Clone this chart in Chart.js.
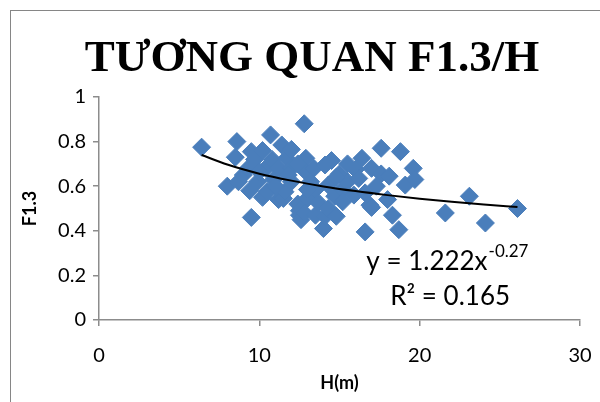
<!DOCTYPE html>
<html>
<head>
<meta charset="utf-8">
<script src="https://cdn.jsdelivr.net/npm/chart.js@4"></script>
<style>
  html, body { margin: 0; padding: 0; background: #fff; overflow: hidden; }
  #wrap { position: relative; width: 600px; height: 402px; overflow: hidden; }
  #frame { position: absolute; left: 10px; top: 10px; width: 700px; height: 500px; border: 1px solid #868686; box-sizing: border-box; }
  canvas { position: absolute; left: 0; top: 0; }
</style>
</head>
<body>
<div id="wrap">
  <div id="frame"></div>
  <canvas id="c" width="600" height="402"></canvas>
</div>
<script>
const chartTitle = "TƯƠNG QUAN F1.3/H";
const xAxisTitle = "H(m)";
const yAxisTitle = "F1.3";
const equationMain = "y = 1.222x";
const equationExp = "-0.27";
const rSquaredText = "R² = 0.165";

const hValues = [6.4, 8.0, 8.6, 8.5, 8.7, 9.0, 9.3, 9.4, 9.5, 9.5, 9.7, 9.9, 10.2, 10.2, 10.4, 10.5, 10.7, 10.8, 10.9, 11.2,
  11.2, 11.4, 11.5, 11.6, 11.7, 12.0, 12.0, 12.0, 12.4, 12.5, 12.5, 12.6, 12.8, 12.9, 12.9, 13.0, 12.8, 13.4, 13.5, 13.5,
  13.7, 14.0, 14.1, 14.1, 14.3, 14.3, 14.5, 14.7, 14.8, 15.0, 15.2, 15.5, 15.9, 16.0, 16.4, 16.6, 16.6, 16.9, 17.0, 17.0,
  17.6, 17.6, 18.0, 18.1, 18.3, 18.7, 18.8, 19.1, 19.6, 19.7, 21.6, 23.1, 24.1, 26.1,
  11.0, 11.8, 10.0, 12.4, 13.2, 13.0, 15.5, 16.2, 17.3, 14.8, 15.2];
const f13Values = [0.775, 0.60, 0.80, 0.73, 0.62, 0.65, 0.68, 0.58, 0.46, 0.755, 0.72, 0.62, 0.76, 0.55, 0.68, 0.575, 0.83, 0.72, 0.63, 0.68,
  0.54, 0.785, 0.545, 0.575, 0.725, 0.765, 0.68, 0.62, 0.52, 0.47, 0.49, 0.45, 0.88, 0.725, 0.665, 0.545, 0.48, 0.68, 0.47, 0.585,
  0.525, 0.41, 0.695, 0.465, 0.605, 0.50, 0.715, 0.555, 0.465, 0.655, 0.585, 0.70, 0.56, 0.675, 0.725, 0.395, 0.57, 0.515, 0.68, 0.505,
  0.655, 0.77, 0.54, 0.645, 0.47, 0.405, 0.755, 0.605, 0.68, 0.63, 0.48, 0.555, 0.435, 0.50,
  0.60, 0.65, 0.665, 0.70, 0.62, 0.585, 0.62, 0.635, 0.60, 0.64, 0.53];

// Power trendline (as displayed: y = 1.222x^-0.27), values at these H
const trendH = [6.4, 8, 10, 12, 14, 16, 18, 20, 22, 24, 26.1];
const trendF = [0.740, 0.697, 0.656, 0.625, 0.599, 0.578, 0.560, 0.544, 0.530, 0.518, 0.507];

const xTicks = [0, 10, 20, 30];
const yTicks = [0, 0.2, 0.4, 0.6, 0.8, 1];
const xTickLabels = ["0", "10", "20", "30"];
const yTickLabels = ["0", "0.2", "0.4", "0.6", "0.8", "1"];

const scatterData = hValues.map((h, i) => ({ x: h, y: f13Values[i] }));
const trendData = trendH.map((h, i) => ({ x: h, y: trendF[i] }));

const axisGray = '#8c8c8c';
const markerBlue = '#4A7EBB';

const textPlugin = {
  id: 'textPlugin',
  afterDraw(chart) {
    const ctx = chart.ctx;
    const xs = chart.scales.x, ys = chart.scales.y;
    ctx.save();
    // Title
    ctx.fillStyle = '#000';
    ctx.font = 'bold 45px "Liberation Serif", "Times New Roman", serif';
    ctx.textAlign = 'center';
    ctx.textBaseline = 'alphabetic';
    ctx.fillText(chartTitle, 312, 71);

    // Equation
    const eqFont = '26px Lato, Carlito, sans-serif';
    const supFont = '17px Lato, Carlito, sans-serif';
    ctx.font = eqFont;
    const wMain = ctx.measureText(equationMain).width;
    ctx.font = supFont;
    const wExp = ctx.measureText(equationExp).width;
    const cx = xs.getPixelForValue(21.7);
    const cy = ys.getPixelForValue(0.222);
    const startX = cx - (wMain + wExp) / 2;
    ctx.textAlign = 'left';
    ctx.font = eqFont;
    ctx.fillText(equationMain, startX, cy);
    ctx.font = supFont;
    ctx.fillText(equationExp, startX + wMain + 1, cy - 13);

    ctx.font = eqFont;
    ctx.textAlign = 'center';
    ctx.fillText(rSquaredText, xs.getPixelForValue(21.9), ys.getPixelForValue(0.066));
    ctx.restore();
  }
};

new Chart(document.getElementById('c'), {
  type: 'scatter',
  data: {
    datasets: [
      {
        label: 'Trend',
        data: trendData,
        showLine: true,
        borderColor: '#000',
        borderWidth: 2,
        pointRadius: 0,
        tension: 0.4,
        cubicInterpolationMode: 'monotone',
        fill: false,
        order: 0
      },
      {
        label: 'F1.3',
        data: scatterData,
        pointStyle: 'rectRot',
        pointRadius: 9,
        pointBackgroundColor: markerBlue,
        pointBorderColor: markerBlue,
        pointBorderWidth: 1,
        order: 1
      }
    ]
  },
  options: {
    responsive: false,
    animation: false,
    events: [],
    layout: { padding: { left: 10, top: 97, right: 20, bottom: 0 } },
    plugins: {
      legend: { display: false },
      tooltip: { enabled: false },
      title: { display: false }
    },
    scales: {
      x: {
        type: 'linear',
        min: 0, max: 30,
        afterBuildTicks: s => { s.ticks = xTicks.map(v => ({ value: v })); },
        afterFit: s => { s.height = 82; s.paddingRight = 0; s.paddingLeft = 0; },
        grid: { drawOnChartArea: false, drawTicks: true, tickLength: 6, color: axisGray, lineWidth: 1.5 },
        border: { color: axisGray, width: 1.5 },
        ticks: { color: '#000', padding: 18, font: { family: 'Lato', size: 20 },
          callback: (v, i) => xTickLabels[i] },
        title: { display: true, text: xAxisTitle, color: '#000', padding: { top: 0, bottom: 8 }, font: { family: 'Lato', size: 18, weight: 'bold' } }
      },
      y: {
        type: 'linear',
        min: 0, max: 1,
        afterBuildTicks: s => { s.ticks = yTicks.map(v => ({ value: v })); },
        afterFit: s => { s.width = 89; s.paddingTop = 0; s.paddingBottom = 0; },
        grid: { drawOnChartArea: false, drawTicks: true, tickLength: 6, color: axisGray, lineWidth: 1.5 },
        border: { color: axisGray, width: 1.5 },
        ticks: { color: '#000', padding: 7, font: { family: 'Lato', size: 20 },
          callback: (v, i) => yTickLabels[i] },
        title: { display: true, text: yAxisTitle, color: '#000', padding: { top: 9, bottom: 0 }, font: { family: 'Lato', size: 18, weight: 'bold' } }
      }
    }
  },
  plugins: [textPlugin]
});
</script>
</body>
</html>
